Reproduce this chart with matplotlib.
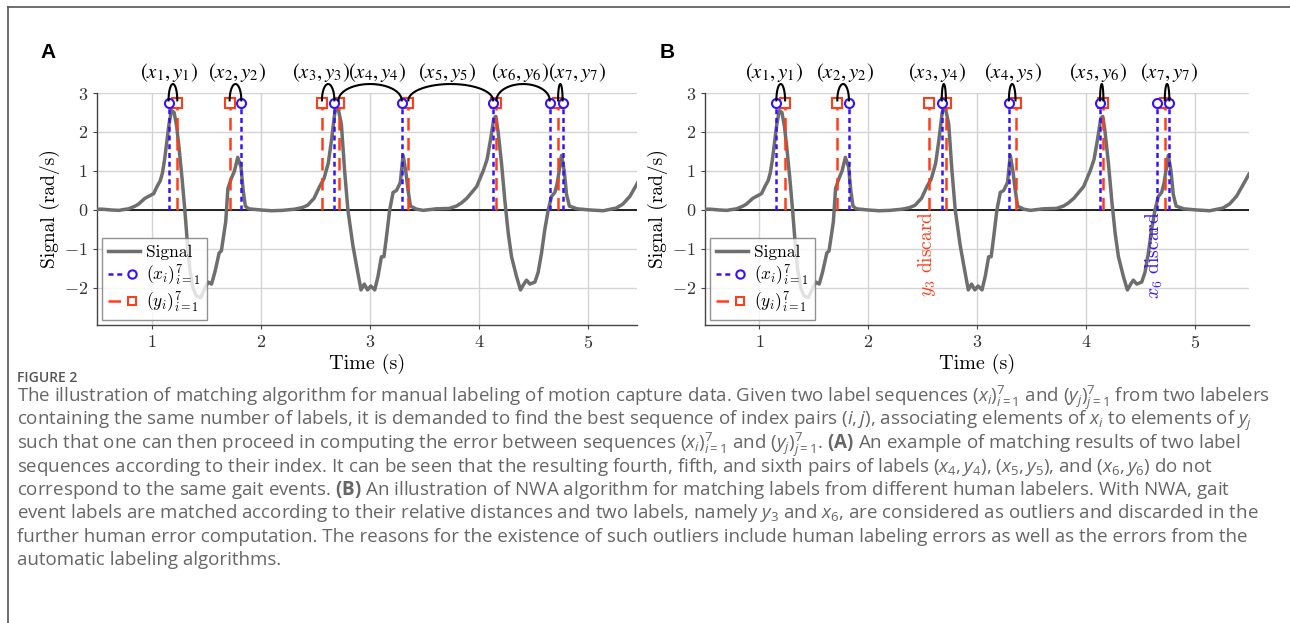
import numpy as np
import matplotlib
matplotlib.use("Agg")
import matplotlib.pyplot as plt
from matplotlib.lines import Line2D
from matplotlib.legend_handler import HandlerTuple

plt.rcParams["font.family"] = ["cmr10"]
plt.rcParams["mathtext.fontset"] = "cm"
plt.rcParams["axes.formatter.use_mathtext"] = True
plt.rcParams["mathtext.rm"] = "Open Sans"
plt.rcParams["mathtext.it"] = "Open Sans:italic"
plt.rcParams["mathtext.bf"] = "Open Sans:bold"

# gyro signal
time_s = [
    0.50, 0.55, 0.63, 0.70, 0.79, 0.85, 0.88, 0.94, 0.98, 1.02,
    1.05, 1.08, 1.10, 1.12, 1.14, 1.16, 1.183, 1.207, 1.23, 1.25,
    1.28, 1.305, 1.33, 1.35, 1.38, 1.41, 1.45, 1.49, 1.52, 1.55,
    1.58, 1.62, 1.64, 1.68, 1.70, 1.73, 1.76, 1.79, 1.82, 1.84,
    1.86, 1.89, 2.00, 2.10, 2.20, 2.31, 2.38, 2.43, 2.49, 2.54,
    2.58, 2.62, 2.65, 2.68, 2.707, 2.74, 2.77, 2.80, 2.845, 2.89,
    2.92, 2.95, 2.98, 3.01, 3.046, 3.076, 3.107, 3.13, 3.153, 3.183,
    3.214, 3.245, 3.28, 3.306, 3.33, 3.352, 3.373, 3.43, 3.49, 3.61,
    3.73, 3.795, 3.84, 3.89, 3.98, 4.04, 4.076, 4.107, 4.138, 4.156,
    4.177, 4.208, 4.24, 4.27, 4.30, 4.345, 4.382, 4.413, 4.437, 4.468,
    4.514, 4.544, 4.575, 4.605, 4.636, 4.667, 4.697, 4.72, 4.758, 4.783,
    4.804, 4.83, 4.90, 5.02, 5.14, 5.26, 5.32, 5.385, 5.446, 5.50,
]
signal = [
    0.02, 0.02, 0.00, -0.01, 0.03, 0.10, 0.15, 0.30, 0.36, 0.42,
    0.60, 0.75, 0.95, 1.30, 1.75, 2.20, 2.55, 2.50, 2.15, 1.65,
    0.80, 0.00, -0.90, -1.50, -2.00, -2.20, -2.25, -2.00, -1.85, -1.90,
    -1.60, -1.10, -1.05, -0.30, 0.55, 0.80, 1.00, 1.35, 1.10, 0.50,
    0.10, 0.03, 0.00, -0.02, -0.01, 0.02, 0.06, 0.12, 0.30, 0.60,
    0.80, 1.20, 1.80, 2.50, 2.65, 2.20, 1.00, 0.00, -0.90, -1.60,
    -2.05, -1.90, -2.05, -1.95, -2.05, -1.70, -1.20, -1.20, -0.70, 0.00,
    0.45, 0.50, 0.70, 1.40, 1.00, 0.50, 0.10, 0.02, -0.01, 0.03,
    0.04, 0.10, 0.18, 0.30, 0.60, 1.00, 1.30, 1.80, 2.35, 2.40,
    2.00, 1.20, 0.20, -0.60, -1.20, -1.70, -2.05, -1.90, -1.80, -1.90,
    -1.85, -1.60, -1.10, -0.50, 0.00, 0.35, 0.45, 0.70, 1.40, 1.00,
    0.40, 0.10, 0.03, 0.00, -0.02, 0.05, 0.15, 0.35, 0.65, 0.92,
]

# label times of the two labelers
x_labels = [1.156, 1.823, 2.676, 3.293, 4.131, 4.650, 4.768]
y_labels = [1.236, 1.716, 2.562, 2.714, 3.354, 4.162, 4.726]

# matched index pairs (x index, y index)
pairs_a = [(0, 0), (1, 1), (2, 2), (3, 3), (4, 4), (5, 5), (6, 6)]
pairs_b = [(0, 0), (1, 1), (2, 3), (3, 4), (4, 5), (6, 6)]
pair_text_x_a = [1.16, 1.785, 2.555, 3.065, 3.71, 4.38, 4.90]
pair_text_x_b = [1.13, 1.785, 2.63, 3.335, 4.115, 4.765]

GRAY = "#6e6e6e"
BLUE = "#3414ff"
RED = "#ff3d1a"
MARK_Y = 2.75


def draw_panel(ax, pairs, text_x, xmax):
    ax.plot(time_s, signal, color=GRAY, lw=2.5, zorder=3)
    ax.axhline(0, color="black", lw=1.2, zorder=2)
    ax.vlines(y_labels, 0, MARK_Y, colors=RED, linestyles=(0, (5, 3)), lw=1.8, zorder=4)
    ax.vlines(x_labels, 0, MARK_Y, colors=BLUE, linestyles=(0, (2, 1.5)), lw=1.8, zorder=4)
    ax.plot(y_labels, [MARK_Y] * len(y_labels), "s", mfc="white", mec=RED, ms=6.5, mew=1.5,
            ls="none", zorder=5, clip_on=False)
    ax.plot(x_labels, [MARK_Y] * len(x_labels), "o", mfc="white", mec=BLUE, ms=6.5, mew=1.5,
            ls="none", zorder=6, clip_on=False)

    th = np.linspace(0, np.pi, 80)
    for (i, j), tx in zip(pairs, text_x):
        a, b = x_labels[i], y_labels[j]
        mid, half = (a + b) / 2, abs(b - a) / 2
        ax.plot(mid + half * np.cos(th), MARK_Y + 0.06 + 0.42 * np.sin(th),
                color="black", lw=1.5, clip_on=False, zorder=6)
        ax.text(tx, 3.52, r"$(x_{%d}, y_{%d})$" % (i + 1, j + 1), ha="center", va="center",
                fontsize=15, math_fontfamily="stix")

    ax.set_xlim(0.5, xmax)
    ax.set_ylim(-2.95, 3.0)
    ax.set_xticks([1, 2, 3, 4, 5])
    ax.set_yticks([-2, -1, 0, 1, 2, 3])
    ax.grid(True, color="#d4d4d4", lw=1.0)
    ax.set_axisbelow(True)
    for side in ["top", "right"]:
        ax.spines[side].set_visible(False)
    for side in ["left", "bottom"]:
        ax.spines[side].set_color("#444444")
        ax.spines[side].set_linewidth(1.0)
    ax.tick_params(labelsize=13, length=3, color="#444444", labelcolor="#333333")
    ax.set_xlabel("Time (s)", fontsize=14.5, labelpad=2)
    ax.set_ylabel("Signal (rad/s)", fontsize=14, labelpad=3)

    sig_h = Line2D([], [], color=GRAY, lw=2.5)
    bl = Line2D([], [], color=BLUE, ls=(0, (2, 1.5)), lw=1.8)
    bm = Line2D([], [], ls="none", marker="o", mfc="white", mec=BLUE, ms=6, mew=1.5)
    rl = Line2D([], [], color=RED, ls=(0, (5, 3)), lw=1.8)
    rm = Line2D([], [], ls="none", marker="s", mfc="white", mec=RED, ms=6, mew=1.5)
    leg = ax.legend([sig_h, (bl, bm), (rl, rm)],
                    ["Signal", r"$(x_i)_{i=1}^{7}$", r"$(y_i)_{i=1}^{7}$"],
                    handler_map={tuple: HandlerTuple(ndivide=None, pad=0)},
                    loc="lower left", fancybox=False, edgecolor="#777777", fontsize=12.5,
                    framealpha=0.8, borderaxespad=0.3, handlelength=1.8,
                    labelspacing=0.15, borderpad=0.35, handletextpad=0.4)
    leg.get_frame().set_linewidth(1.0)


fig = plt.figure(figsize=(12.9, 6.23), dpi=100)
ax_a = fig.add_axes([97 / 1290, 1 - 325 / 623, 540 / 1290, 232 / 623])
ax_b = fig.add_axes([705 / 1290, 1 - 325 / 623, 544 / 1290, 232 / 623])
draw_panel(ax_a, pairs_a, pair_text_x_a, 5.45)
draw_panel(ax_b, pairs_b, pair_text_x_b, 5.5)

ax_b.text(2.545, -0.03, r"$y_3$ discard", rotation=90, ha="center", va="top", color=RED,
          fontsize=14)
ax_b.text(4.63, -0.03, r"$x_6$ discard", rotation=90, ha="center", va="top", color=BLUE,
          fontsize=14)

for letter, xp in [("A", 48), ("B", 667)]:
    fig.text(xp / 1290, 1 - 52 / 623, letter, fontsize=15, fontweight="bold",
             family="Liberation Sans", ha="center", va="center")

# frame around the figure block
fig.add_artist(Line2D([8 / 1290, 1], [1 - 7 / 623] * 2, transform=fig.transFigure,
                      color="#555555", lw=1.2))
fig.add_artist(Line2D([8 / 1290] * 2, [0, 1 - 7 / 623], transform=fig.transFigure,
                      color="#555555", lw=1.2))

caption = [
    r"The illustration of matching algorithm for manual labeling of motion capture data. Given two label sequences $(x_i)_{i=1}^7$ and $(y_j)_{j=1}^7$ from two labelers",
    r"containing the same number of labels, it is demanded to find the best sequence of index pairs $(i, j)$, associating elements of $x_i$ to elements of $y_j$",
    r"such that one can then proceed in computing the error between sequences $(x_i)_{i=1}^7$ and $(y_j)_{j=1}^7$. $\mathbf{(A)}$ An example of matching results of two label",
    r"sequences according to their index. It can be seen that the resulting fourth, fifth, and sixth pairs of labels $(x_4, y_4)$, $(x_5, y_5)$, and $(x_6, y_6)$ do not",
    r"correspond to the same gait events. $\mathbf{(B)}$ An illustration of NWA algorithm for matching labels from different human labelers. With NWA, gait",
    r"event labels are matched according to their relative distances and two labels, namely $y_3$ and $x_6$, are considered as outliers and discarded in the",
    r"further human error computation. The reasons for the existence of such outliers include human labeling errors as well as the errors from the",
    r"automatic labeling algorithms.",
]
fig.text(17 / 1290, 1 - 382 / 623, "FIGURE 2", fontsize=10, family="Open Sans",
         fontweight="semibold", color="#555555", va="baseline")
for k, line in enumerate(caption):
    fig.text(17 / 1290, 1 - (402 + 23.3 * k) / 623, line, fontsize=13.5, family="Open Sans",
             color="#666666", va="baseline", math_fontfamily="custom")

fig.savefig("out.png", dpi=100)
